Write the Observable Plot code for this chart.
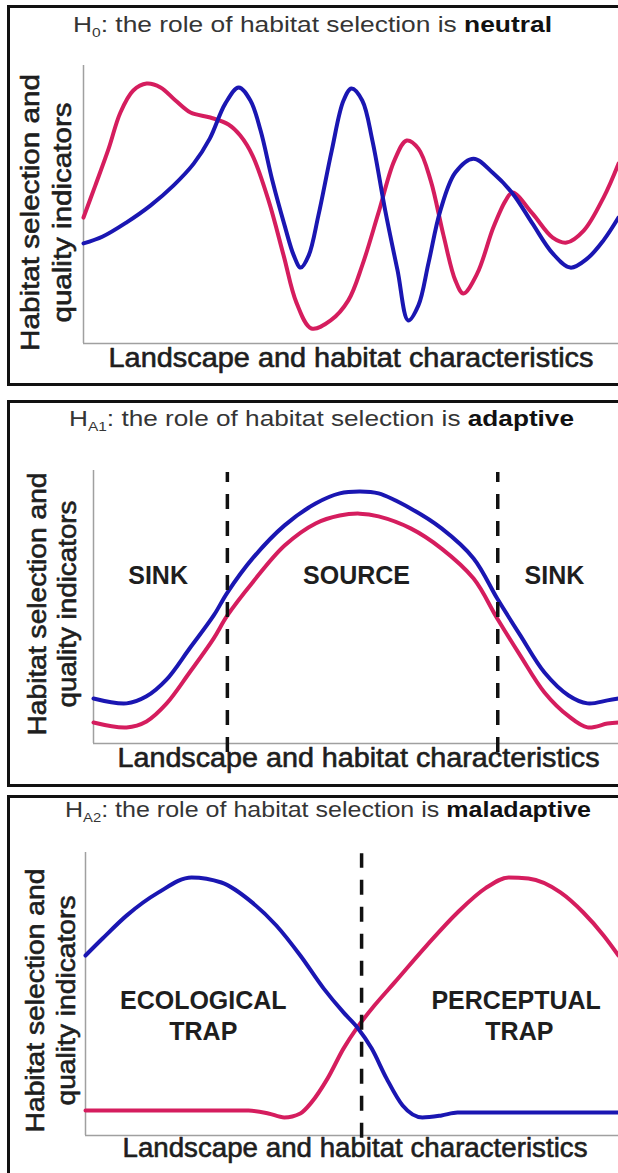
<!DOCTYPE html>
<html><head><meta charset="utf-8">
<script src="https://cdn.jsdelivr.net/npm/d3@7"></script>
<script src="https://cdn.jsdelivr.net/npm/@observablehq/plot@0.6"></script>
<style>
html,body{margin:0;padding:0;width:618px;height:1173px;overflow:hidden;background:#fff;font-family:"Liberation Sans",Arial,sans-serif;}
.panel{position:absolute;left:7px;width:700px;border:3px solid #111;box-sizing:border-box;}
.chart{position:absolute;left:0;}
.title{position:absolute;white-space:nowrap;font-size:22px;line-height:22px;color:#353535;transform-origin:0 0;}
.title b{color:#111;}
.title sub{font-size:13px;vertical-align:-5px;line-height:0;}
</style></head><body>
<div class="panel" style="top:5px;height:381px"></div>
<div class="panel" style="top:400px;height:387px"></div>
<div class="panel" style="top:795px;height:500px"></div>
<script>
const PINK = "#d51d5e", BLUE = "#1a16b2";

// Panel 1 — H0 neutral
const neutralPinkX = [0,2.2,4.7,6.9,9.3,11.8,14.4,17.2,20,23.7,27.1,29.3,31.6,34.6,37.4,39.8,42.6,46.2,49.5,52.1,55.1,58.1,60.4,62.6,64.9,67.3,69.5,71,73.6,76.6,78.9,80.2,83.9,87.7,90.3,93.5,97.2,100];
const neutralPinkY = [45.3,56.8,70.1,83.1,91,93.5,92.1,87.4,83.1,81.3,78.8,74.8,67.6,51.4,31.7,14.7,5.4,8.3,15.5,28.1,46.8,65.8,73,70.1,58.6,38.8,22.7,18,25.2,41.7,51.4,54.3,46.8,38.1,36.3,40.6,52.5,64.7];
const neutralBlueX = [0,3.6,8,12.5,16.8,20.6,23.6,26.5,29,31.2,33.1,35.3,37.6,39.3,40.6,42.1,43.9,46.4,48.6,50.1,52.1,54,56.4,58.7,60.7,62.6,64.5,66.7,69.5,72.9,76.6,80.2,83.9,87.7,91,94.2,97.2,100];
const neutralBlueY = [36,38.5,43.5,49.6,56.8,64.7,73.7,86.3,92.1,87.4,76.6,58.6,42.4,31.7,27.3,31.7,46,69.4,87.4,91.7,87.4,73,47.8,26.3,8.3,13.7,29.1,47.8,61.5,66.5,61.2,54,43.2,32.4,27.3,30.6,37.1,45.3];

// Panel 2 — HA1 adaptive
const adaptiveX = [0,6.3,10.1,13.9,18.3,22.9,25.5,30.3,36.4,42.3,46.9,50.7,54.3,60.4,66.3,72.4,76.9,81.3,85.9,90.5,94.1,97.9,100];
const adaptiveBlueY = [16.5,14.7,17.3,23.4,34.8,46.9,55.3,67.8,79.9,87.9,91.6,92.3,91.6,86.1,78.8,67.8,53.1,39.6,26,17.6,14.7,15.8,16.5];
const adaptivePinkY = [7.7,5.9,8.1,14.6,26,38.5,46.9,59,72.5,80.6,83.5,84.2,83.2,78.8,71.4,60.4,45.8,32.2,18.7,10,5.9,7.3,7.7];
const adaptiveDashX = [25.5, 77];
const adaptiveLabels = ["SINK", "SOURCE", "SINK"];
const adaptiveLabelX = [12.3, 50.1, 87.8];
const adaptiveLabelY = [61.5, 61.5, 61.5];

// Panel 3 — HA2 maladaptive
const maladBlueX = [0,3.2,7.7,13.7,19.9,25.5,31.3,35.8,40.3,44.7,48.4,51,53.7,56.5,59.5,63.2,66.8,69.8,80.1,100];
const maladBlueY = [63.6,69.6,77.7,85.9,91.2,89.4,82.3,74.2,63.6,51.9,43.5,38.2,30.7,20.1,10.6,6.4,7.1,8.1,8.1,8.1];
const maladPinkX = [0,13.7,30.6,34.3,37.3,40.3,42.4,45.4,48.4,51,54.2,58,64,69.8,75,79.4,83.1,89.1,93.4,97.2,100];
const maladPinkY = [8.8,8.8,8.8,7.8,6.4,7.8,11.7,20.1,30.7,38.2,45.9,54.1,67.1,78.8,87.3,91.2,90.8,85.9,78.8,70.7,63.6];
const maladDashX = [51.8];
const maladLabels = ["ECOLOGICAL", "TRAP", "PERCEPTUAL", "TRAP"];
const maladLabelX = [22.1, 22.1, 80.8, 81.4];
const maladLabelY = [47.7, 36.4, 47.7, 36.4];

const xLabel = "Landscape and habitat characteristics";
const yLabel1 = "Habitat selection and";
const yLabel2 = "quality indicators";

const zip = (xs, ys) => xs.map((x, i) => ({x, y: ys[i]}));

function makePanel(o) {
  const marks = [
    Plot.ruleY([0], {stroke: "#a0a0a0", strokeWidth: 1.5}),
    Plot.ruleX([0], {stroke: "#a0a0a0", strokeWidth: 1.5}),
    Plot.line(o.pink, {x: "x", y: "y", stroke: PINK, strokeWidth: 4, curve: o.curve}),
    Plot.line(o.blue, {x: "x", y: "y", stroke: BLUE, strokeWidth: 4, curve: o.curve})
  ];
  if (o.dashes) marks.push(Plot.ruleX(o.dashes, {x: "x", y1: "y1", y2: "y2", stroke: "#111", strokeWidth: 3.5, strokeDasharray: "15,12"}));
  if (o.labels) marks.push(Plot.text(o.labels, {x: "x", y: "y", text: "t", fontSize: 25, fontWeight: "bold", fill: "#1e1e1e"}));
  const lab = {fill: "#1e1e1e", stroke: "#1e1e1e", strokeWidth: 0.6};
  marks.push(
    Plot.text([xLabel], {...lab, text: d => d, frameAnchor: "bottom", dx: o.xl.dx, dy: o.xl.dy, fontSize: 27}),
    Plot.text([yLabel1], {...lab, text: d => d, frameAnchor: "left", rotate: -90, textAnchor: "start", dx: o.yl.dx1, dy: o.yl.dy1, fontSize: 25}),
    Plot.text([yLabel2], {...lab, text: d => d, frameAnchor: "left", rotate: -90, textAnchor: "start", dx: o.yl.dx2, dy: o.yl.dy2, fontSize: 25})
  );
  const svg = Plot.plot({
    width: 618, height: o.height,
    marginLeft: o.ml, marginRight: 0, marginTop: o.mt, marginBottom: o.mb,
    x: {domain: [0, 100], axis: null},
    y: {domain: [0, 100], axis: null},
    style: {fontFamily: '"Liberation Sans", Arial, sans-serif', background: "transparent", overflow: "visible"},
    marks
  });
  svg.querySelectorAll("text").forEach(t => {
    const L = o.lengths[t.textContent];
    if (L) { t.setAttribute("textLength", L); t.setAttribute("lengthAdjust", "spacingAndGlyphs"); }
  });
  const div = document.createElement("div");
  div.className = "chart";
  div.style.top = o.top + "px";
  div.appendChild(svg);
  document.body.appendChild(div);
}

makePanel({
  top: 0, height: 390, ml: 83, mt: 65, mb: 47, curve: "catmull-rom",
  pink: zip(neutralPinkX, neutralPinkY), blue: zip(neutralBlueX, neutralBlueY),
  xl: {dx: 0, dy: 23.4}, yl: {dx1: -53, dx2: -21, dy1: 146.5, dy2: 118},
  lengths: {[xLabel]: 485, [yLabel1]: 277, [yLabel2]: 220}
});
makePanel({
  top: 390, height: 400, ml: 93, mt: 80, mb: 47, curve: "catmull-rom",
  pink: zip(adaptiveX, adaptivePinkY), blue: zip(adaptiveX, adaptiveBlueY),
  dashes: adaptiveDashX.map(x => ({x, y1: -3.3, y2: 99.3})),
  labels: adaptiveLabels.map((t, i) => ({t, x: adaptiveLabelX[i], y: adaptiveLabelY[i]})),
  xl: {dx: 2.5, dy: 23.4}, yl: {dx1: -56, dx2: -25.5, dy1: 128.5, dy2: 100.5},
  lengths: {[xLabel]: 482, [yLabel1]: 263, [yLabel2]: 207}
});
makePanel({
  top: 790, height: 383, ml: 85, mt: 62, mb: 38, curve: "monotone-x",
  pink: zip(maladPinkX, maladPinkY), blue: zip(maladBlueX, maladBlueY),
  dashes: maladDashX.map(x => ({x, y1: -1, y2: 99.6})),
  labels: maladLabels.map((t, i) => ({t, x: maladLabelX[i], y: maladLabelY[i]})),
  xl: {dx: 3, dy: 21.4}, yl: {dx1: -50, dx2: -18.5, dy1: 138.5, dy2: 111.5},
  lengths: {[xLabel]: 465, [yLabel1]: 264, [yLabel2]: 210}
});

function placeTitle(html, left, baseline, width) {
  const d = document.createElement("div");
  d.className = "title";
  d.innerHTML = html;
  document.body.appendChild(d);
  d.style.left = left + "px";
  d.style.top = (baseline - 0.8465 * 22) + "px";
  const w = d.getBoundingClientRect().width;
  d.style.transform = `scaleX(${width / w})`;
}
placeTitle("H<sub>0</sub>: the role of habitat selection is <b>neutral</b>", 73, 33, 479);
placeTitle("H<sub>A1</sub>: the role of habitat selection is <b>adaptive</b>", 69, 427, 505);
placeTitle("H<sub>A2</sub>: the role of habitat selection is <b>maladaptive</b>", 65, 818, 526);
</script>
</body></html>
